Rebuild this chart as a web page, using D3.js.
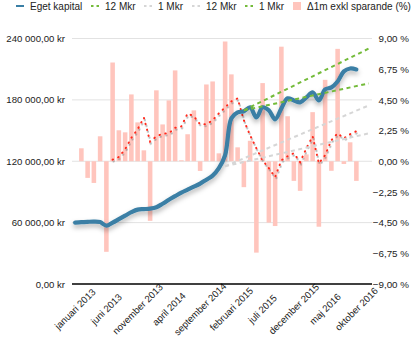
<!DOCTYPE html>
<html><head><meta charset="utf-8">
<script src="https://cdn.jsdelivr.net/npm/d3@7"></script>
<style>
body{margin:0;background:#fff;}
text{font-family:"Liberation Sans",Arial,Helvetica,sans-serif;fill:#222;}
</style></head><body>
<svg id="c" width="420" height="348"></svg>
<script>
const monthNames = ["januari","februari","mars","april","maj","juni","juli","augusti","september","oktober","november","december"];
const years = [2013, 2014, 2015, 2016];
const categories = [];
years.forEach(y => monthNames.forEach(m => categories.push(m + " " + y)));

const tickLabels = ["januari 2013","juni 2013","november 2013","april 2014","september 2014","februari 2015","juli 2015","december 2015","maj 2016","oktober 2016"];
const leftTicks = [0, 60000, 120000, 180000, 240000];
const rightTicks = [-9, -6.75, -4.5, -2.25, 0, 2.25, 4.5, 6.75, 9];

// Eget kapital (kr), jan 2013 .. okt 2016
const egetKapital = [60000, 60500, 60800, 61000, 60500, 57100, 60000, 63400, 66800, 70200, 72700, 73200,
  73700, 75100, 78500, 82400, 85900, 89300, 92200, 95100, 98200, 102000, 105900, 113200,
  126000, 162000, 167800, 168800, 172700, 162900, 172700, 169800, 161000, 171700, 181500, 179500,
  177600, 182400, 187300, 179500, 190200, 192200, 198000, 207800, 210700, 209800];

// Δ1m exkl sparande (%)
const delta1m = [null, 0.95, -1.22, -1.59, 1.83, -6.64, 7.24, 2.27, 2.12, 4.90, 2.85, 0.80,
  -4.37, 5.2, 2.7, 4.46, 6.66, 0.07, 1.98, 3.73, -0.71, 5.63, 5.85, 0.58,
  8.78, 6.37, 1.02, -1.9, 1.5, -6.7, 5.73, -4.5, -4.75, 8.4, 3.3, -1.44,
  -2.17, 0.5, 3.6, -4.8, 5.97, -0.7, 8.24, -0.2, 1.39, -1.44];

// rolling change (%), dotted red line
const rolling = [null, null, null, null, null, null, 0.12, 0.31, 0.88, 1.72, 2.34, 3.20,
  1.44, 1.83, 2.01, 2.05, 2.45, 2.56, 3.51, 3.29, 2.71, 2.71, 3.0, 3.51,
  3.95, 4.39, 4.61, 3.0, 1.9, 0.95, 0.07, -0.51, -1.17, 0.07, 0.37, 0.59,
  -0.07, 0.95, 1.83, -0.15, 0.44, 1.54, 2.05, 1.68, 1.98, 2.2];

// projection lines (kr) : [start category, end category], [start value, end value]
const greenCats = ["april 2015", "december 2016"];
const green12 = [169800, 230200];
const green1 = [169800, 196100];
const greyCats = ["januari 2015", "december 2016"];
const grey1 = [115100, 147300];
const grey12 = [115100, 174600];

const svg = d3.select("#c");
const L = 72, R = 372, T = 38.5, B = 284;

const x = d3.scaleBand().domain(categories).range([L, R]).paddingInner(0.27).paddingOuter(0.135);
const cx = c => x(c) + x.bandwidth() / 2;
const yL = d3.scaleLinear().domain([0, 240000]).range([B, T]);
const yR = d3.scaleLinear().domain([-9, 9]).range([B, T]);

const defs = svg.append("defs");
const f1 = defs.append("filter").attr("id", "shBlue").attr("x", "-20%").attr("y", "-20%").attr("width", "140%").attr("height", "160%");
f1.append("feDropShadow").attr("dx", 0).attr("dy", 3).attr("stdDeviation", 2.5).attr("flood-color", "#000").attr("flood-opacity", 0.3);
const f2 = defs.append("filter").attr("id", "shRed").attr("x", "-20%").attr("y", "-20%").attr("width", "140%").attr("height", "160%");
f2.append("feDropShadow").attr("dx", 0.8).attr("dy", 1.8).attr("stdDeviation", 0.7).attr("flood-color", "#777").attr("flood-opacity", 0.55);

// gridlines
svg.append("g").selectAll("line").data(leftTicks.filter(d => d > 0)).join("line")
  .attr("x1", L).attr("x2", R).attr("y1", d => yL(d)).attr("y2", d => yL(d))
  .attr("stroke", "#e2e2e2").attr("stroke-width", 1);

// bars
svg.append("g").selectAll("rect").data(delta1m.map((v, i) => ({c: categories[i], v})).filter(d => d.v !== null)).join("rect")
  .attr("x", d => x(d.c)).attr("width", x.bandwidth())
  .attr("y", d => yR(Math.max(0, d.v))).attr("height", d => Math.abs(yR(d.v) - yR(0)))
  .attr("fill", "#ffc5bd");

// dotted red line
const redLine = d3.line().defined(d => d.v !== null).x(d => cx(d.c)).y(d => yR(d.v));
svg.append("path").datum(rolling.map((v, i) => ({c: categories[i], v})))
  .attr("d", redLine).attr("fill", "none").attr("stroke", "#ff2a1c").attr("stroke-width", 2)
  .attr("stroke-dasharray", "0.5 5.5").attr("stroke-linecap", "round").attr("filter", "url(#shRed)");

// blue line
const blueLine = d3.line().x(d => cx(d.c)).y(d => yL(d.v)).curve(d3.curveCatmullRom.alpha(0.5));
svg.append("path").datum(egetKapital.map((v, i) => ({c: categories[i], v})))
  .attr("d", blueLine).attr("fill", "none").attr("stroke", "#3a7fa5").attr("stroke-width", 4.2)
  .attr("stroke-linecap", "round").attr("filter", "url(#shBlue)");

// projection lines
function proj(cats, vals, color) {
  svg.append("line").attr("x1", cx(cats[0])).attr("x2", cx(cats[1]))
    .attr("y1", yL(vals[0])).attr("y2", yL(vals[1]))
    .attr("stroke", color).attr("stroke-width", 2).attr("stroke-dasharray", "4 3.5");
}
proj(greyCats, grey1, "#d6d6d6");
proj(greyCats, grey12, "#d6d6d6");
proj(greenCats, green12, "#74bb3a");
proj(greenCats, green1, "#74bb3a");

// axes
const fmtL = d3.formatLocale({decimal: ",", thousands: " ", grouping: [3], currency: ["", ""], minus: "\u2212"});
const gl = svg.append("g").attr("transform", `translate(${L},0)`)
  .call(d3.axisLeft(yL).tickValues(leftTicks).tickSize(0).tickPadding(7).tickFormat(d => fmtL.format(",.2f")(d) + " kr"));
gl.select(".domain").remove();
gl.selectAll("text").attr("font-size", 9.6).attr("font-family", null).style("fill", "#222");

const gr = svg.append("g").attr("transform", `translate(${R},0)`)
  .call(d3.axisRight(yR).tickValues(rightTicks).tickSize(0).tickFormat(d => fmtL.format(".2f")(d) + " %"));
gr.select(".domain").remove();
gr.selectAll("text").attr("x", 37).attr("text-anchor", "end").attr("font-size", 9.8).attr("font-family", null).style("fill", "#222");

const gx = svg.append("g").attr("transform", `translate(0,${B})`)
  .call(d3.axisBottom(x).tickValues(tickLabels).tickSize(0));
gx.select(".domain").remove();
gx.selectAll("text").attr("font-size", 9.6).attr("font-family", null).style("fill", "#222")
  .attr("text-anchor", "middle").attr("y", 0).attr("dy", "0.35em")
  .attr("transform", "translate(0,25) rotate(-45)");

svg.append("line").attr("x1", L).attr("x2", R).attr("y1", B).attr("y2", B).attr("stroke", "#000").attr("stroke-width", 1.3);

// legend
const lg = svg.append("g").attr("font-size", 10);
function legLine(x1, color, dash, label, tx) {
  lg.append("line").attr("x1", x1).attr("x2", x1 + 8).attr("y1", 6).attr("y2", 6)
    .attr("stroke", color).attr("stroke-width", 2).attr("stroke-dasharray", dash);
  lg.append("text").attr("x", tx).attr("y", 9.5).text(label);
}
legLine(16, "#3a7fa5", null, "Eget kapital", 30);
legLine(91, "#74bb3a", "2.5 3", "12 Mkr", 105);
legLine(144, "#d6d6d6", "2.5 3", "1 Mkr", 158);
legLine(192, "#d6d6d6", "2.5 3", "12 Mkr", 206);
legLine(245, "#74bb3a", "2.5 3", "1 Mkr", 259);
lg.append("rect").attr("x", 293).attr("y", 2).attr("width", 8).attr("height", 8).attr("fill", "#ffc5bd");
lg.append("text").attr("x", 307).attr("y", 9.5).text("Δ1m exkl sparande (%)");
</script>
</body></html>
